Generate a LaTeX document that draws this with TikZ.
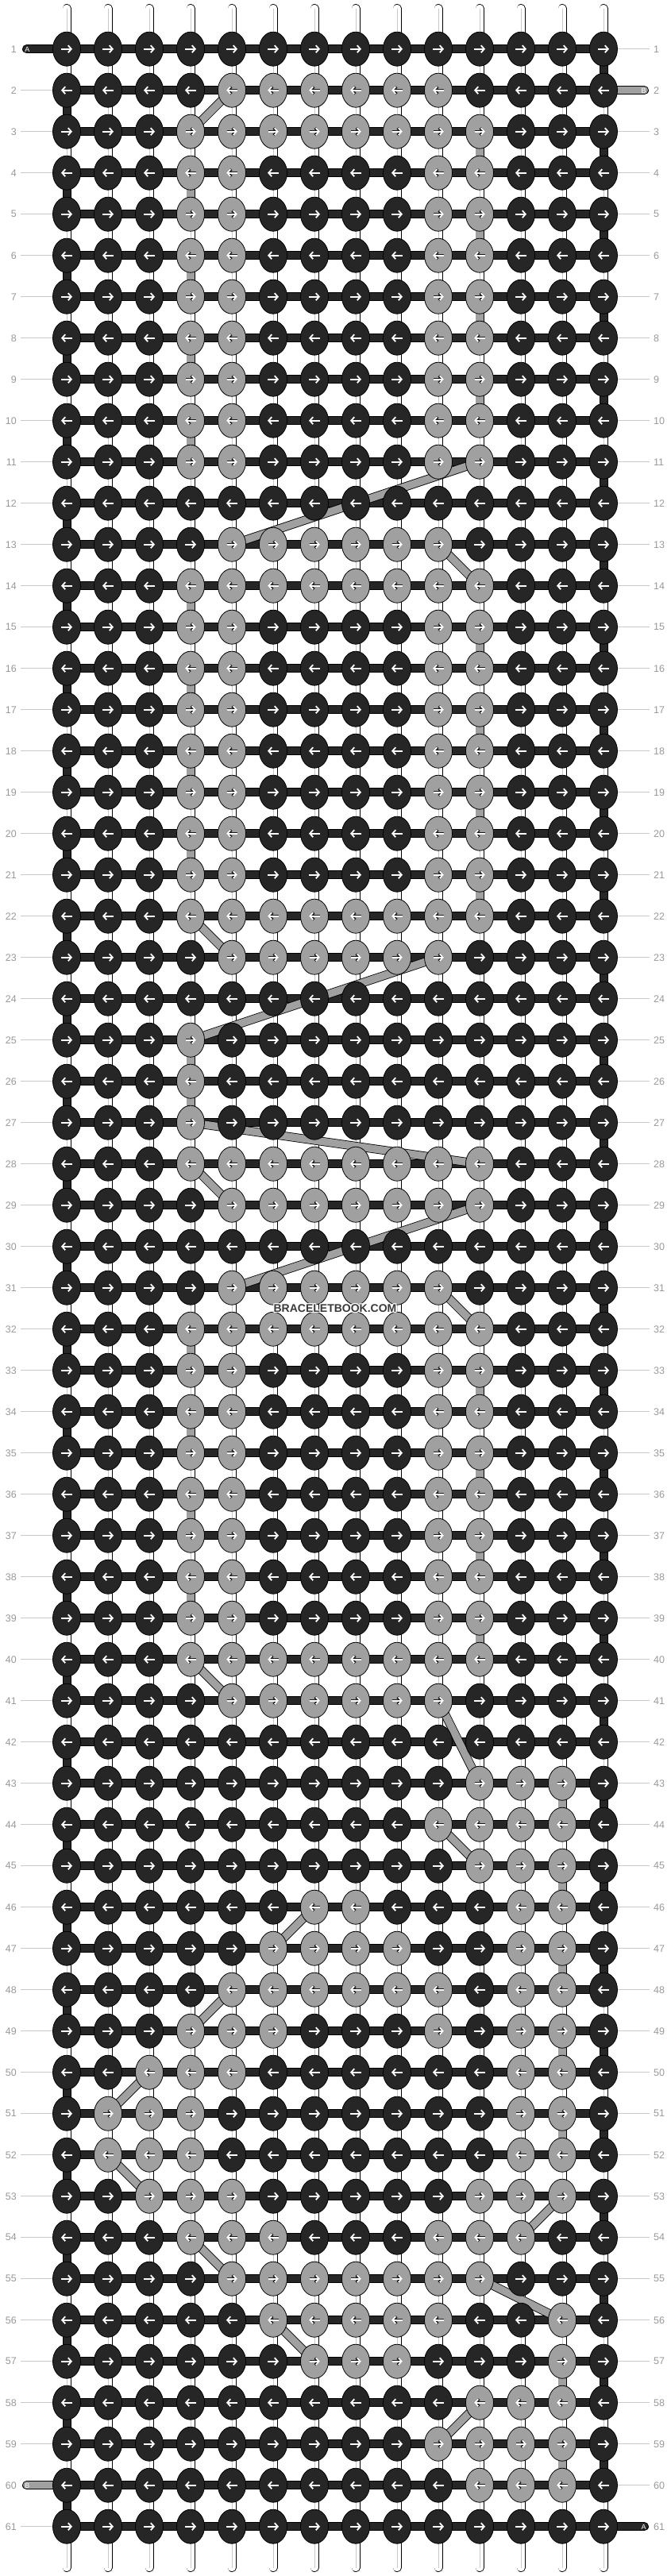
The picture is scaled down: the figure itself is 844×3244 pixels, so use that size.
\documentclass[tikz,border=0pt]{standalone}
\usepackage{fontspec}
\setmainfont{Liberation Sans}
\usetikzlibrary{arrows.meta,shapes.geometric}
\definecolor{dk}{HTML}{262626}
\definecolor{gr}{HTML}{A0A0A0}
\definecolor{lbl}{HTML}{999999}
\definecolor{lnc}{HTML}{C8C8C8}
\definecolor{wmc}{HTML}{3A3A3A}
\pgfdeclarelayer{lbg}
\pgfdeclarelayer{lthread}
\pgfdeclarelayer{lbar}
\pgfdeclarelayer{lband}
\pgfsetlayers{lbg,lthread,lbar,lband,main}
\begin{document}
\begin{tikzpicture}[x=1pt,y=-1pt,
  knot/.style={ellipse, minimum width=35pt, minimum height=43pt, inner sep=0pt, draw=black, line width=0.8pt},
  dknot/.style={knot, fill=dk},
  gknot/.style={knot, fill=gr},
  thread/.style={draw=black, line width=0.8pt, double=white, double distance=9.4pt, line cap=round},
  threadmid/.style={draw=lnc, line width=0.7pt},
  bar/.style={draw=black, line width=1pt, double=dk, double distance=9pt},
  tailA/.style={draw=black, line width=1pt, double=dk, double distance=9pt, line cap=round},
  tailB/.style={draw=black, line width=1pt, double=gr, double distance=9pt, line cap=round},
  band/.style={draw=black, line width=0.8pt, double=gr, double distance=9.4pt},
  arrw/.style={white, line width=1.8pt, -{Straight Barb[length=4pt,width=9pt]}},
  arrk/.style={black!90, line width=3.4pt, -{Straight Barb[length=4pt,width=9pt]}},
  numl/.style={text=lbl, font=\fontsize{12.5}{14}\selectfont, inner sep=0pt},
  numline/.style={draw=lnc, line width=0.9pt},
  taillbl/.style={text=white, font=\fontsize{9}{10}\selectfont, inner sep=0pt},
  wm/.style={font=\fontsize{14}{16}\selectfont\bfseries, inner sep=0pt}
]
\useasboundingbox (0,0) rectangle (844,3244);
\begin{pgfonlayer}{lbg}
\fill[white] (0,0) rectangle (844,3244);
\end{pgfonlayer}

% ---- gray knots ----
\foreach \r/\gcols in {
  2/{5,...,10}, 3/{4,...,11},
  4/{4,5,10,11}, 5/{4,5,10,11}, 6/{4,5,10,11}, 7/{4,5,10,11}, 8/{4,5,10,11},
  9/{4,5,10,11}, 10/{4,5,10,11}, 11/{4,5,10,11},
  13/{5,...,10}, 14/{4,...,11},
  15/{4,5,10,11}, 16/{4,5,10,11}, 17/{4,5,10,11}, 18/{4,5,10,11},
  19/{4,5,10,11}, 20/{4,5,10,11}, 21/{4,5,10,11},
  22/{4,...,11}, 23/{5,...,10},
  25/{4}, 26/{4}, 27/{4},
  28/{4,...,11}, 29/{5,...,11}, 31/{5,...,10}, 32/{4,...,11},
  33/{4,5,10,11}, 34/{4,5,10,11}, 35/{4,5,10,11}, 36/{4,5,10,11},
  37/{4,5,10,11}, 38/{4,5,10,11}, 39/{4,5,10,11},
  40/{4,...,11}, 41/{5,...,10},
  43/{11,12,13}, 44/{10,11,12,13}, 45/{11,12,13},
  46/{7,8,12,13}, 47/{6,7,8,9,12,13}, 48/{5,6,7,8,9,10,12,13},
  49/{4,5,6,10,12,13}, 50/{3,4,5,12,13}, 51/{2,3,4,12,13}, 52/{2,3,4,12,13},
  53/{3,4,5,11,12,13}, 54/{4,5,6,10,11,12}, 55/{5,...,11},
  56/{6,7,8,9,10,13}, 57/{7,8,9,13}, 58/{11,12,13}, 59/{10,11,12,13}, 60/{11,12,13}}{
  \foreach \c in \gcols {\expandafter\gdef\csname gk-\r-\c\endcsname{}}
}

% ---- knots ----
\foreach \r in {1,...,61}{
  \ifodd\r \gdef\ad{1}\else \gdef\ad{-1}\fi
  \foreach \c in {1,...,14}{
    \ifcsname gk-\r-\c\endcsname
      \node[gknot] (k-\r-\c) at ({84+52*(\c-1)},{61.7+52*(\r-1)}) {};
      \draw[arrk] ([xshift={-6.5*\ad}]k-\r-\c.center) -- ([xshift={7*\ad}]k-\r-\c.center);
      \draw[arrw] ([xshift={-6.5*\ad}]k-\r-\c.center) -- ([xshift={7*\ad}]k-\r-\c.center);
    \else
      \node[dknot] (k-\r-\c) at ({84+52*(\c-1)},{61.7+52*(\r-1)}) {};
      \draw[arrw] ([xshift={-7*\ad}]k-\r-\c.center) -- ([xshift={7*\ad}]k-\r-\c.center);
    \fi
  }
}

% ---- base threads ----
\begin{pgfonlayer}{lthread}
\foreach \c in {1,...,14}{
  \coordinate (top-\c) at ({84+52*(\c-1)},10.5);
  \coordinate (bot-\c) at ({84+52*(\c-1)},3233.5);
  \draw[thread] (top-\c) -- (bot-\c);
  \draw[threadmid] (top-\c) -- (bot-\c);
}
\end{pgfonlayer}

% ---- horizontal bars, edge turns, tails ----
\begin{pgfonlayer}{lbar}
\foreach \r in {1,...,61}{
  \draw[bar] (k-\r-1.center) -- (k-\r-14.center);
}
\foreach \r in {1,3,...,59}{
  \pgfmathtruncatemacro\rn{\r+1}
  \draw[bar] (k-\r-14.center) -- (k-\rn-14.center);
}
\foreach \r in {2,4,...,60}{
  \pgfmathtruncatemacro\rn{\r+1}
  \draw[bar] (k-\r-1.center) -- (k-\rn-1.center);
}
\coordinate (tA1) at (33.5,61.7);
\coordinate (tA2) at (811.5,3181.7);
\coordinate (tB1) at (811.5,113.7);
\coordinate (tB2) at (33.5,3129.7);
\draw[tailA] (k-1-1.center) -- (tA1);
\draw[tailA] (k-61-14.center) -- (tA2);
\draw[tailB] (k-2-14.center) -- (tB1);
\draw[tailB] (k-60-1.center) -- (tB2);
\end{pgfonlayer}
\node[taillbl] (la1) at (34.5,62.2) {A};
\node[taillbl] (la2) at (810.5,3182.2) {A};
\node[taillbl] (lb1) at (810.5,114.2) {B};
\node[taillbl] (lb2) at (34.5,3130.2) {B};

% ---- B thread jumps ----
\begin{pgfonlayer}{lband}
\foreach \ra/\ca/\rb/\cb in {
  2/5/3/4, 3/11/4/11, 4/4/5/4, 5/11/6/11, 6/4/7/4, 7/11/8/11, 8/4/9/4,
  9/11/10/11, 10/4/11/4, 11/11/13/5, 13/10/14/11, 14/4/15/4, 15/11/16/11,
  16/4/17/4, 17/11/18/11, 18/4/19/4, 19/11/20/11, 20/4/21/4, 21/11/22/11,
  22/4/23/5, 23/10/25/4, 25/4/26/4, 26/4/27/4, 27/4/28/11, 28/4/29/5,
  29/11/31/5, 31/10/32/11, 32/4/33/4, 33/11/34/11, 34/4/35/4, 35/11/36/11,
  36/4/37/4, 37/11/38/11, 38/4/39/4, 39/11/40/11, 40/4/41/5, 41/10/43/11,
  43/13/44/13, 44/10/45/11, 45/13/46/13, 46/7/47/6, 47/13/48/13, 48/5/49/4,
  49/13/50/13, 50/3/51/2, 51/13/52/13, 52/2/53/3, 53/13/54/12, 54/4/55/5,
  55/11/56/13, 56/6/57/7, 57/13/58/13, 58/11/59/10, 59/13/60/13}{
  \draw[band] (k-\ra-\ca.center) -- (k-\rb-\cb.center);
}
\end{pgfonlayer}

% ---- row numbers ----
\foreach \r in {1,...,61}{
  \node[numl, anchor=east] (nl-\r) at (21,{61.7+52*(\r-1)}) {\r};
  \node[numl, anchor=west] (nr-\r) at (823,{61.7+52*(\r-1)}) {\r};
}
\begin{pgfonlayer}{lthread}
\foreach \r in {2,...,59,61}{
  \draw[numline] ([xshift=5pt]nl-\r.east) -- (k-\r-1.west);
}
\foreach \r in {1,3,4,...,60}{
  \draw[numline] (k-\r-14.east) -- ([xshift=-5pt]nr-\r.west);
}
\end{pgfonlayer}

% ---- watermark ----
\foreach \dx/\dy/\nm in {-1/-1/a, -1/0/b, -1/1/c, 0/-1/d, 0/1/e, 1/-1/f, 1/0/g, 1/1/h}{
  \node[wm, text=white] (wmh-\nm) at ({422+\dx},{1648+\dy}) {BRACELETBOOK.COM};
}
\node[wm, text=wmc] (wm) at (422,1648) {BRACELETBOOK.COM};
\end{tikzpicture}
\end{document}
